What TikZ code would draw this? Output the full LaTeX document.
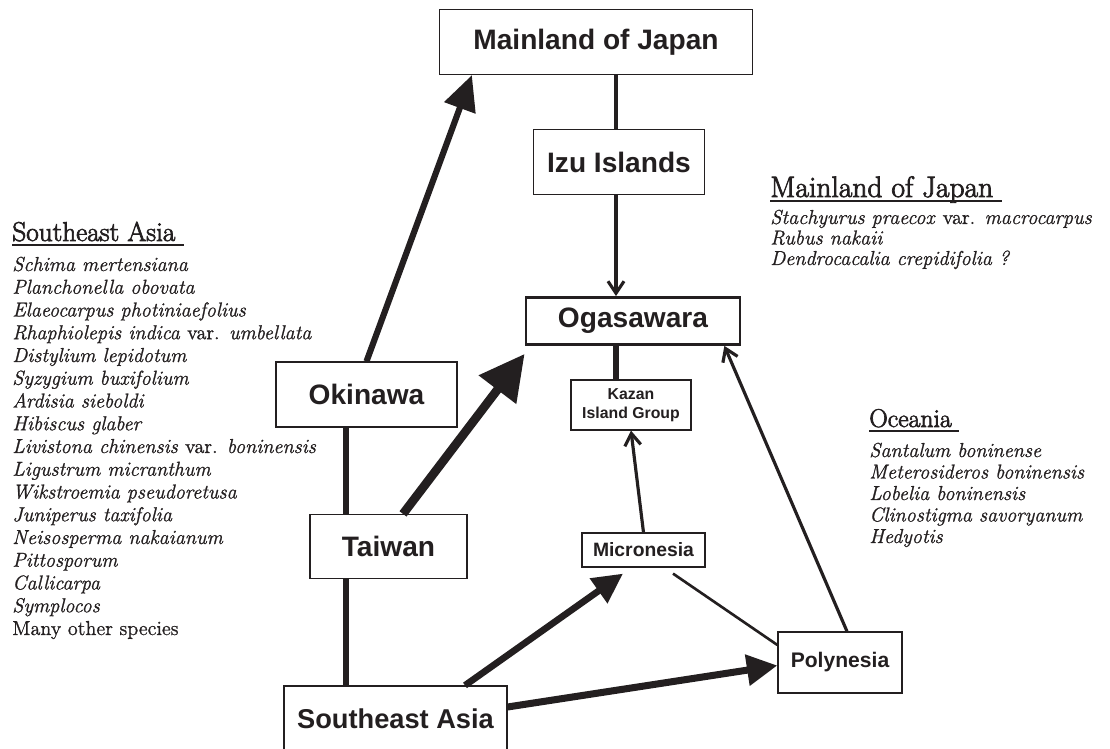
\documentclass[tikz,border=0pt]{standalone}
\usepackage{fontspec}
\usepackage{tikz}
\usetikzlibrary{positioning, calc, arrows.meta}
\usepackage{xcolor}
\newfontfamily\boxfont{Liberation Sans}
\newfontfamily\headfont{Latin Modern Roman}[FakeBold=2.6]
\newfontfamily\listfont{Latin Modern Roman}[FakeBold=1.0]
\definecolor{Ink}{HTML}{231F20}
\newcommand{\ulhead}[1]{\setbox0=\hbox{#1\ }\rlap{\rule[-2.8pt]{\wd0}{1.2pt}}\box0}

\begin{document}
\begin{tikzpicture}[
  x=0.02cm, y=-0.02cm,
  region/.style={rectangle, draw=Ink, line width=0.7pt, fill=white, text=Ink,
    inner sep=0pt, font=\boxfont\bfseries\fontsize{16}{19}\selectfont},
  heavy/.style={line width=3.8pt, color=Ink},
  link/.style={line width=1.8pt, color=Ink},
  barb/.style={link, -{Straight Barb[length=2.4mm, width=3.2mm]}},
  head/.style={anchor=base west, text=Ink, inner sep=0pt, font=\headfont\fontsize{15.5}{18}\selectfont},
  sp/.style={anchor=base west, text=Ink, inner sep=0pt, font=\listfont\fontsize{11.5}{13}\selectfont\itshape}
]
  \useasboundingbox (0,0) rectangle (1110,749);

  % regions
  \node[region, minimum width=6.26cm, minimum height=1.3cm] (main) at (596,42) {Mainland of Japan};
  \node[region, minimum width=3.42cm, minimum height=1.3cm] (izu) at (619,162) {Izu Islands};
  \node[region, line width=1.6pt, minimum width=4.28cm, minimum height=0.94cm] (oga) at (633,321) {Ogasawara};
  \node[region, minimum width=3.62cm, minimum height=1.3cm] (oki) at (366.5,394.5) {Okinawa};
  \node[region, minimum width=3.14cm, minimum height=1.28cm] (tw) at (388.5,546.5) {Taiwan};
  \node[region, font=\boxfont\bfseries\fontsize{15.5}{18}\selectfont,
    minimum width=4.46cm, minimum height=1.32cm] (sea) at (395.5,719) {Southeast Asia};
  \node[region, font=\boxfont\bfseries\fontsize{9}{10.6}\selectfont, align=center,
    minimum width=2.4cm, minimum height=1cm] (kazan) at (631,405) {Kazan\\Island Group};
  \node[region, font=\boxfont\bfseries\fontsize{11}{13}\selectfont,
    minimum width=2.46cm, minimum height=0.68cm] (mic) at (643.5,550) {Micronesia};
  \node[region, font=\boxfont\bfseries\fontsize{12}{14}\selectfont,
    minimum width=2.48cm, minimum height=1.22cm] (poly) at (840,662.5) {Polynesia};

  % routes
  \coordinate (trunk) at (346,0);
  \coordinate (spine) at (616,0);
  \draw[heavy] (oki.south -| trunk) -- (tw.north -| trunk);
  \draw[heavy] (tw.south -| trunk) -- (sea.north -| trunk);
  \draw[heavy, line width=3.5pt, -{Triangle[length=7mm, width=6.4mm]}] (oki.north) -- ([xshift=0.66cm]main.south west);
  \draw[heavy, line width=5pt, -{Triangle[length=9mm, width=9mm]}] ([xshift=0.29cm]tw.north) -- ([yshift=-0.16cm]oga.south west);
  \draw[link] (izu.north -| spine) -- (main.south -| spine);
  \draw[barb] (izu.south -| spine) -- (oga.north -| spine);
  \draw[heavy] (oga.south -| spine) -- (kazan.north -| spine);
  \draw[barb] (mic.north) -- (kazan.south);
  \draw[heavy, -{Triangle[length=6mm, width=5.8mm]}] ([xshift=1.39cm]sea.north) -- ([xshift=-0.41cm, yshift=-0.12cm]mic.south);
  \draw[heavy, line width=4pt, -{Triangle[length=6.1mm, width=6mm]}] ([yshift=0.24cm]sea.east) -- ([yshift=-0.06cm]poly.west);
  \draw[link, line width=1.5pt] ([xshift=0.59cm, yshift=-0.12cm]mic.south) -- ([yshift=0.35cm]poly.west);
  \draw[barb] ([xshift=0.14cm]poly.north) -- ([xshift=-0.34cm]oga.south east);

  % species lists
  \node[head] (hsea) at (12,241) {\ulhead{Southeast Asia}};
  \foreach \name [count=\i from 0] in {Schima mertensiana, Planchonella obovata,
      Elaeocarpus photiniaefolius, Rhaphiolepis indica \textup{var.} umbellata,
      Distylium lepidotum, Syzygium buxifolium, Ardisia sieboldi, Hibiscus glaber,
      Livistona chinensis \textup{var.} boninensis, Ligustrum micranthum,
      Wikstroemia pseudoretusa, Juniperus taxifolia, Neisosperma nakaianum,
      Pittosporum, Callicarpa, Symplocos, \textup{Many other species}}
    \node[sp] (sa\i) at (12,{271+22.75*\i}) {\name};

  \node[head, font=\headfont\fontsize{16.8}{19}\selectfont] (hjp) at (770,197) {\ulhead{Mainland of Japan}};
  \foreach \name [count=\i from 0] in {Stachyurus praecox \textup{var.} macrocarpus,
      Rubus nakaii, Dendrocacalia crepidifolia ?}
    \node[sp] (jp\i) at (770,{224+20.5*\i}) {\name};

  \node[head, font=\headfont\fontsize{14.6}{17}\selectfont] (hoc) at (869,427) {\ulhead{Oceania}};
  \foreach \name [count=\i from 0] in {Santalum boninense, Meterosideros boninensis,
      Lobelia boninensis, Clinostigma savoryanum, Hedyotis}
    \node[sp] (oc\i) at (869,{457+21.5*\i}) {\name};
\end{tikzpicture}
\end{document}
